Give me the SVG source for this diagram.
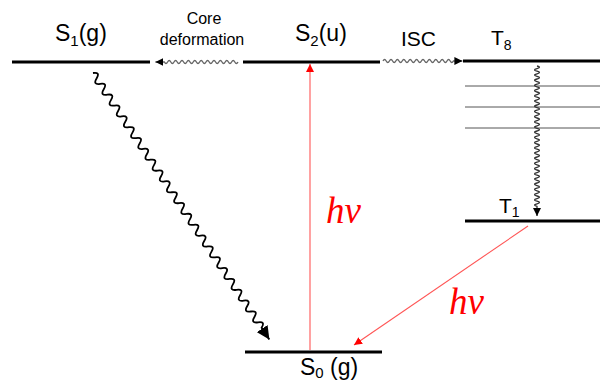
<svg xmlns="http://www.w3.org/2000/svg" width="600" height="383" viewBox="0 0 600 383">
<defs>
<style>
.lvl{stroke:#000;stroke-width:3;fill:none}
.sub{stroke:#555;stroke-width:1;fill:none}
.lbl{font-family:"Liberation Sans",Arial,sans-serif;fill:#000}
.hv{font-family:"Liberation Serif","Times New Roman",serif;font-style:italic;fill:#ff0000;font-size:37px}
.wg{stroke:#666;stroke-width:1.3;fill:none}
.wb{stroke:#000;stroke-width:1.8;fill:none}
.red{stroke:#ff5555;stroke-width:1.1;fill:none}
</style>
<marker id="ah" viewBox="0 0 10 10" refX="10" refY="5" markerWidth="8" markerHeight="8" markerUnits="userSpaceOnUse" orient="auto"><path d="M0,0 L10,5 L0,10 z" fill="#000"/></marker>
<marker id="ahb" viewBox="0 0 10 10" refX="10" refY="5" markerWidth="13" markerHeight="13" markerUnits="userSpaceOnUse" orient="auto"><path d="M0,0 L10,5 L0,10 z" fill="#000"/></marker>
<marker id="ahr" viewBox="0 0 10 10" refX="10" refY="5" markerWidth="8" markerHeight="8" markerUnits="userSpaceOnUse" orient="auto"><path d="M0,0 L10,5 L0,10 z" fill="#ff0000"/></marker>
</defs>

<g id="S1">
<line class="lvl" x1="12" y1="62" x2="150" y2="62"/>
<text class="lbl" x="55" y="41" font-size="23">S<tspan font-size="15" dy="5">1</tspan><tspan dy="-5">(g)</tspan></text>
</g>
<g id="S2">
<line class="lvl" x1="243" y1="62" x2="380" y2="62"/>
<text class="lbl" x="295" y="41" font-size="23">S<tspan font-size="15" dy="5">2</tspan><tspan dy="-5">(u)</tspan></text>
</g>
<g id="T8">
<line class="lvl" x1="463" y1="61" x2="600" y2="61"/>
<line class="sub" x1="465" y1="86" x2="600" y2="86"/>
<line class="sub" x1="465" y1="107" x2="600" y2="107"/>
<line class="sub" x1="465" y1="128" x2="600" y2="128"/>
<text class="lbl" x="491" y="45" font-size="21">T<tspan font-size="14" dy="5">8</tspan></text>
</g>
<g id="T1">
<line class="lvl" x1="465" y1="221" x2="600" y2="221"/>
<text class="lbl" x="499" y="213" font-size="21">T<tspan font-size="14" dy="4">1</tspan></text>
</g>
<g id="S0">
<line class="lvl" x1="245" y1="352" x2="382" y2="352"/>
<text class="lbl" x="300" y="375" font-size="23">S<tspan font-size="15" dy="3">0</tspan><tspan dy="-3"> (g)</tspan></text>
</g>

<g id="connectors">
<path class="wg" marker-end="url(#ah)" transform="translate(238,62) rotate(180)" d="M0,0 q1.6,-3 3.2,0 t3.2,0 t3.2,0 t3.2,0 t3.2,0 t3.2,0 t3.2,0 t3.2,0 t3.2,0 t3.2,0 t3.2,0 t3.2,0 t3.2,0 t3.2,0 t3.2,0 t3.2,0 t3.2,0 t3.2,0 t3.2,0 t3.2,0 t3.2,0 t3.2,0 t3.2,0 l9,0"/>
<path class="wg" marker-end="url(#ah)" transform="translate(383,61)" d="M0,0 q1.6,-3 3.2,0 t3.2,0 t3.2,0 t3.2,0 t3.2,0 t3.2,0 t3.2,0 t3.2,0 t3.2,0 t3.2,0 t3.2,0 t3.2,0 t3.2,0 t3.2,0 t3.2,0 t3.2,0 t3.2,0 t3.2,0 t3.2,0 t3.2,0 t3.2,0 t3.2,0 l9,0"/>
<path class="wg" style="stroke:#333" marker-end="url(#ah)" transform="translate(537,66) rotate(90)" d="M0,0 q1.3,-5 2.6,0 t2.6,0 t2.6,0 t2.6,0 t2.6,0 t2.6,0 t2.6,0 t2.6,0 t2.6,0 t2.6,0 t2.6,0 t2.6,0 t2.6,0 t2.6,0 t2.6,0 t2.6,0 t2.6,0 t2.6,0 t2.6,0 t2.6,0 t2.6,0 t2.6,0 t2.6,0 t2.6,0 t2.6,0 t2.6,0 t2.6,0 t2.6,0 t2.6,0 t2.6,0 t2.6,0 t2.6,0 t2.6,0 t2.6,0 t2.6,0 t2.6,0 t2.6,0 t2.6,0 t2.6,0 t2.6,0 t2.6,0 t2.6,0 t2.6,0 t2.6,0 t2.6,0 t2.6,0 t2.6,0 t2.6,0 t2.6,0 t2.6,0 t2.6,0 t2.6,0 t2.6,0 t2.6,0 l9.6,0"/>
<path class="wb" marker-end="url(#ahb)" transform="translate(93,73) rotate(56.5)" d="M0,0 q3.25,-7 6.5,0 t6.5,0 t6.5,0 t6.5,0 t6.5,0 t6.5,0 t6.5,0 t6.5,0 t6.5,0 t6.5,0 t6.5,0 t6.5,0 t6.5,0 t6.5,0 t6.5,0 t6.5,0 t6.5,0 t6.5,0 t6.5,0 t6.5,0 t6.5,0 t6.5,0 t6.5,0 t6.5,0 t6.5,0 t6.5,0 t6.5,0 t6.5,0 t6.5,0 t6.5,0 t6.5,0 t6.5,0 t6.5,0 t6.5,0 t6.5,0 t6.5,0 t6.5,0 t6.5,0 t6.5,0 t6.5,0 t6.5,0 t6.5,0 t6.5,0 t6.5,0 t6.5,0 t6.5,0 t6.5,0 l14,0"/>
<line class="red" marker-end="url(#ahr)" x1="310" y1="350" x2="310" y2="64"/>
<line class="red" marker-end="url(#ahr)" x1="528" y1="226" x2="354" y2="345"/>
</g>

<text class="lbl" x="204" y="24" font-size="16" text-anchor="middle">Core</text>
<text class="lbl" x="202" y="45" font-size="16" text-anchor="middle">deformation</text>
<text class="lbl" x="401" y="46" font-size="21">ISC</text>
<text class="hv" x="326" y="223">hν</text>
<text class="hv" x="449" y="314">hν</text>
</svg>
